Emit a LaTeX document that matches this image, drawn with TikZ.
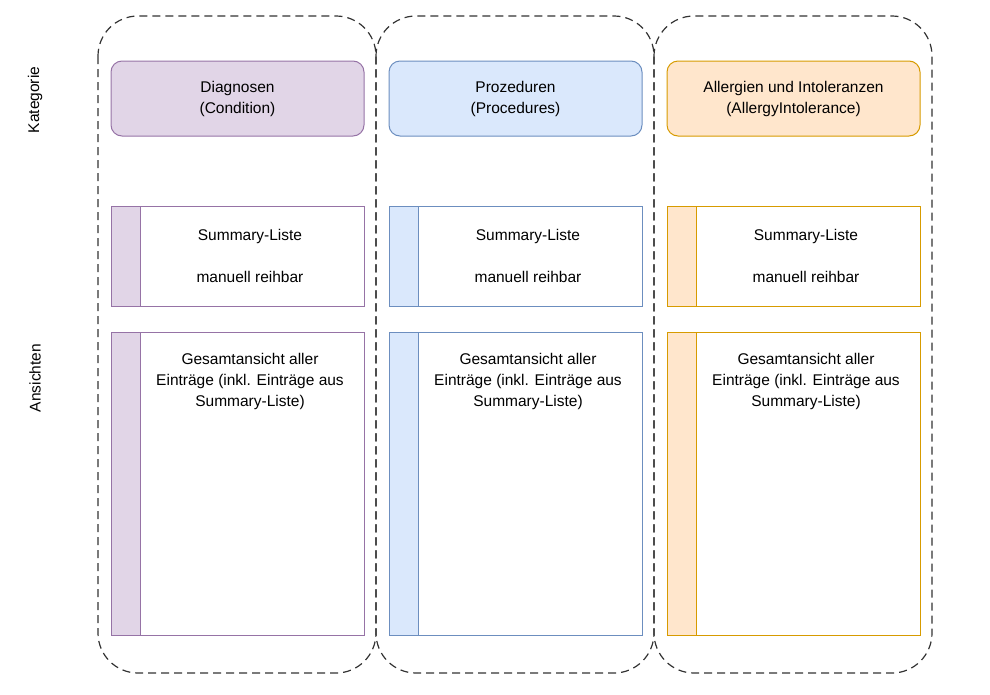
\documentclass[tikz,border=0pt]{standalone}
\usepackage{fontspec}
\setmainfont{Liberation Sans}
\definecolor{purpleF}{HTML}{E1D5E7}\definecolor{purpleD}{HTML}{9673A6}
\definecolor{blueF}{HTML}{DAE8FC}\definecolor{blueD}{HTML}{6C8EBF}
\definecolor{orangeF}{HTML}{FFE6CC}\definecolor{orangeD}{HTML}{D79B00}
\tikzset{
  column/.style={draw=black!80, line width=1.2pt, dash pattern=on 8pt off 5pt, rounded corners=40pt},
  header/.style={rounded corners=11pt},
  txt/.style={font=\fontsize{15.5}{21}\selectfont, align=center},
}
\begin{document}
\begin{tikzpicture}[x=1pt, y=-1pt, line width=1pt]
\useasboundingbox (0,0) rectangle (990,694);
% Side labels
    \node[txt, rotate=90] (kat) at (35,100) {Kategorie};
    \node[txt, rotate=90] (ans) at (35,378) {Ansichten};
% Columns
\foreach \x/\f/\d/\t in {111/purpleF/purpleD/{Diagnosen\\(Condition)},
                        389/blueF/blueD/{Prozeduren\\(Procedures)},
                        667/orangeF/orangeD/{Allergien und Intoleranzen\\(AllergyIntolerance)}}{
    \draw[column] (\x-13,16) rectangle (\x+265,673);
    \draw[header, fill=\f, draw=\d] (\x,61) rectangle (\x+253,136);
    \node[txt] at (\x+126.5,98.5) {\t};
    % Summary
    \draw[draw=\d, fill=white] (\x,206) rectangle (\x+253,306);
    \draw[draw=\d, fill=\f] (\x,206) rectangle (\x+29,306);
    \node[txt] at (\x+139,236) {Summary-Liste};
    \node[txt] at (\x+139,277) {manuell reihbar};
    % Gesamt
    \draw[draw=\d, fill=white] (\x,332) rectangle (\x+253,635);
    \draw[draw=\d, fill=\f] (\x,332) rectangle (\x+29,635);
    \node[txt, anchor=north] at (\x+139,349) {Gesamtansicht aller\\Einträge (inkl. Einträge aus\\Summary-Liste)};
}
\end{tikzpicture}
\end{document}
